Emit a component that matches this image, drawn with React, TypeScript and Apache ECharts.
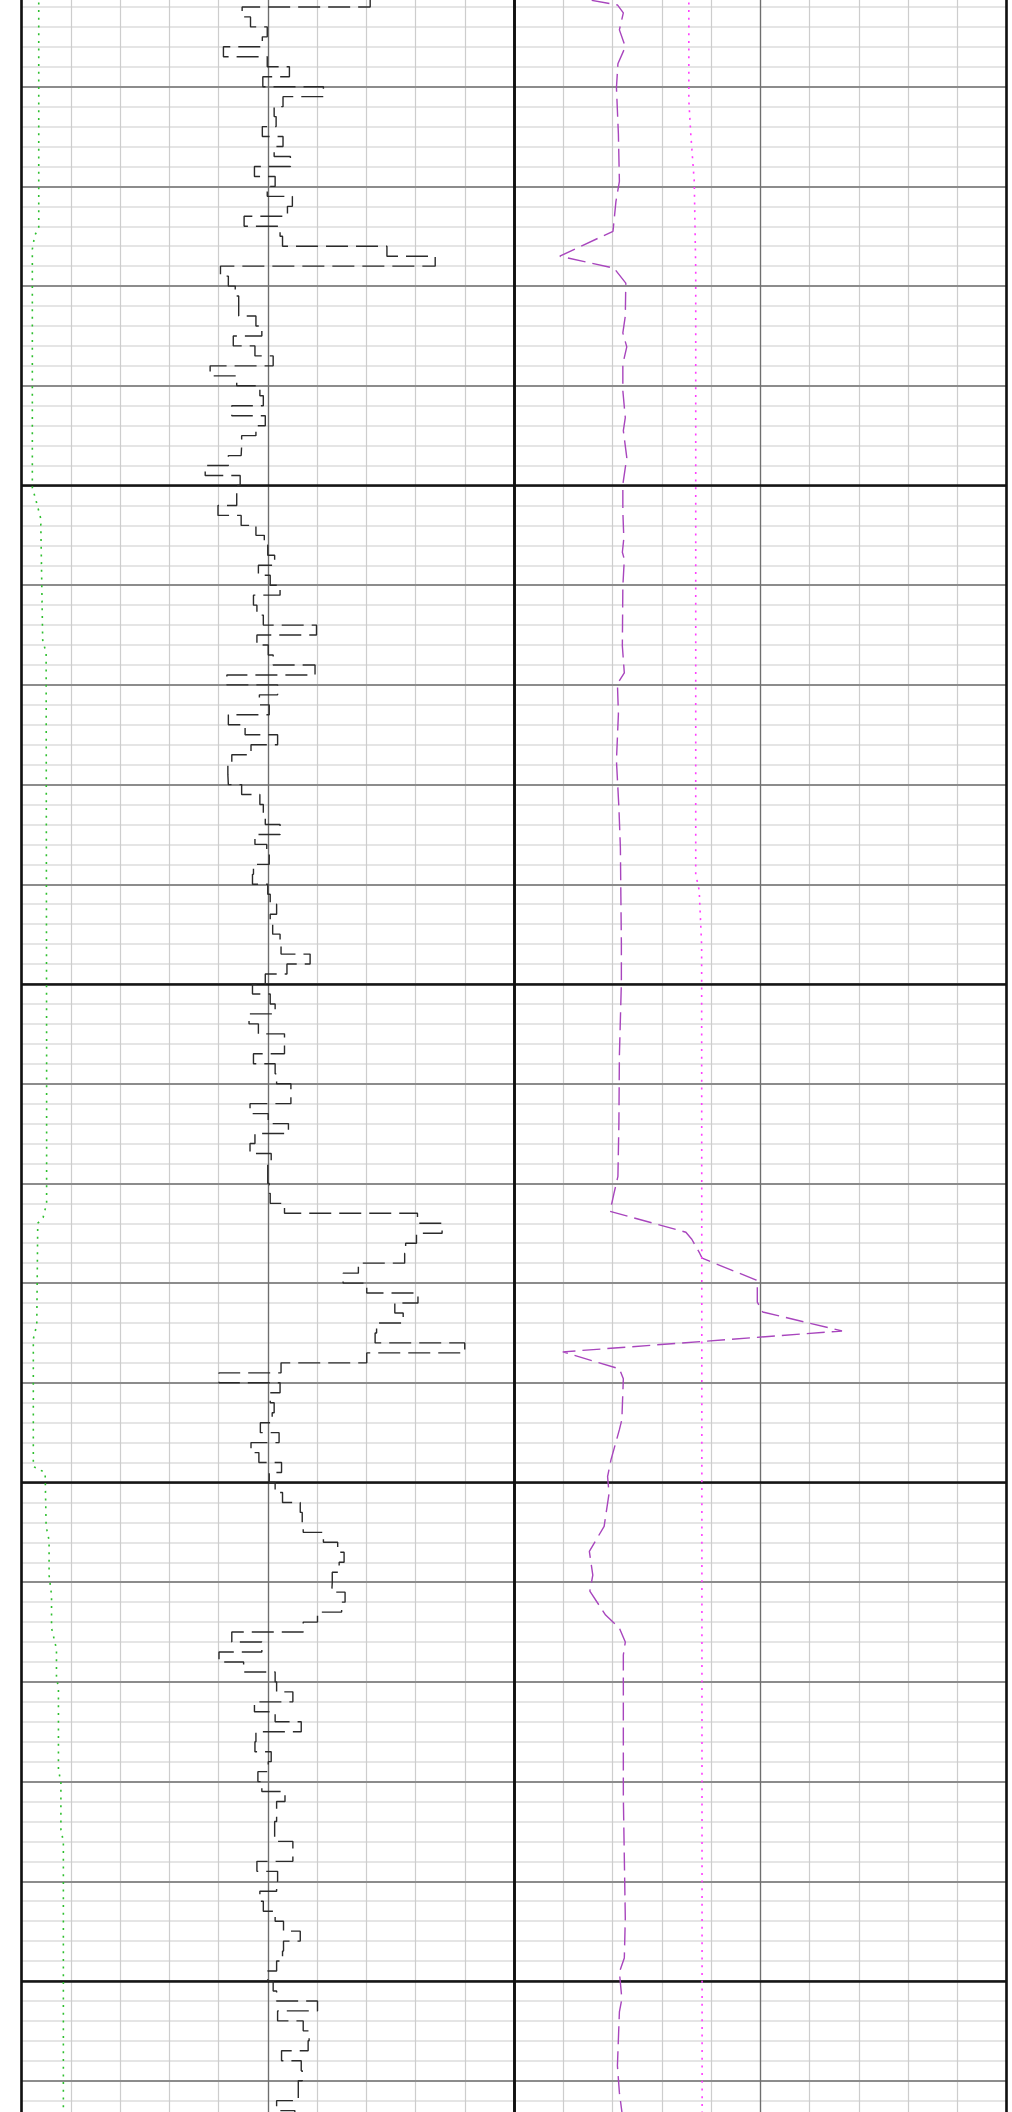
import React, { useEffect, useRef } from "react";
import * as echarts from "echarts";

// Depth axis (ft)
const DEPTH_MIN = 5000;
const DEPTH_MAX = 5214;

// Track 1: black stepped curve, one value per foot starting at 5001 ft
const STEP_TOP_DEPTH = 5001;
const STEP_VALUES = [
  70.8, 44.8, 46.5, 49.9, 48.9, 41.0, 49.9, 54.4, 49.0, 61.3,
  53.1, 51.3, 51.7, 48.9, 53.1, 51.3, 54.6, 47.3, 51.5, 49.9,
  55.0, 54.0, 45.2, 52.5, 53.0, 74.2, 84.0, 40.4, 42.0, 43.4,
  44.1, 44.1, 47.6, 48.8, 43.0, 47.4, 51.1, 38.3, 43.7, 48.4,
  49.1, 42.7, 49.5, 47.6, 44.7, 44.6, 42.0, 37.3, 44.4, 43.7,
  43.7, 39.9, 44.6, 47.6, 49.3, 50.0, 51.4, 48.1, 50.5, 52.5,
  47.1, 47.8, 49.1, 59.9, 47.8, 50.1, 51.1, 59.6, 41.7, 52.0,
  48.3, 50.3, 42.0, 45.4, 52.0, 46.6, 42.7, 41.9, 42.0, 44.7,
  48.4, 49.1, 49.5, 52.5, 47.4, 49.8, 50.3, 47.1, 46.9, 50.0,
  50.5, 51.8, 50.5, 51.0, 52.5, 52.7, 58.6, 53.9, 49.5, 46.9,
  50.5, 51.5, 46.2, 48.1, 53.4, 53.4, 47.1, 51.5, 51.8, 54.7,
  54.7, 46.4, 50.1, 54.2, 47.4, 46.4, 50.7, 50.0, 50.0, 50.3,
  50.5, 53.4, 80.4, 85.4, 80.2, 78.0, 77.8, 68.4, 65.3, 70.1,
  80.5, 75.8, 77.5, 72.1, 71.8, 90.0, 70.1, 52.7, 40.1, 52.5,
  50.5, 51.3, 50.9, 48.5, 52.3, 46.6, 48.2, 52.8, 50.3, 51.5,
  53.0, 56.6, 57.0, 57.2, 61.3, 64.2, 65.5, 64.5, 63.1, 63.0,
  65.7, 65.0, 60.1, 57.2, 42.7, 48.8, 40.1, 45.1, 51.5, 51.8,
  55.1, 47.3, 51.5, 56.8, 47.6, 47.4, 50.7, 50.1, 48.0, 48.8,
  53.5, 51.8, 51.8, 51.4, 51.4, 55.1, 55.1, 47.8, 52.0, 51.8,
  48.4, 49.1, 51.5, 53.2, 56.6, 53.2, 53.0, 51.8, 50.0, 51.1,
  51.8, 60.1, 52.0, 57.2, 58.4, 58.2, 52.8, 56.8, 57.0, 56.2,
  56.2, 51.8, 55.5,
];

// Track 1: green dotted curve
const GREEN_DEPTHS = [
  5000.0, 5024.2, 5024.9, 5026.3, 5050.2, 5051.6, 5053.3, 5065.5, 5066.8, 5107.2,
  5122.0, 5123.4, 5124.0, 5134.2, 5135.6, 5148.4, 5149.0, 5154.4, 5155.8, 5159.3,
  5161.3, 5164.6, 5166.7, 5169.4, 5170.7, 5178.8, 5180.1, 5184.8, 5186.0, 5214.0,
];
const GREEN_VALUES = [
  3.5, 3.5, 2.7, 2.2, 2.2, 3.0, 3.9, 4.3, 5.0, 5.1,
  5.1, 4.4, 3.3, 3.1, 2.4, 2.4, 4.8, 5.0, 5.6, 5.6,
  6.1, 6.1, 7.1, 7.1, 7.5, 7.5, 8.0, 8.0, 8.5, 8.5,
];

// Track 2: purple dashed curve
const PURPLE_DEPTHS = [
  5000.5, 5001.3, 5001.8, 5002.6, 5004.3, 5006.0, 5007.7, 5010.1, 5014.8, 5019.5,
  5021.5, 5024.5, 5027.0, 5028.2, 5029.7, 5033.0, 5034.7, 5036.1, 5037.8, 5040.5,
  5043.2, 5044.5, 5047.2, 5049.9, 5052.6, 5055.3, 5056.7, 5057.4, 5060.1, 5066.1,
  5068.8, 5069.9, 5072.9, 5077.6, 5082.3, 5086.3, 5091.2, 5095.9, 5099.9, 5107.2,
  5113.9, 5119.3, 5121.0, 5122.8, 5124.9, 5125.6, 5127.0, 5127.5, 5129.7, 5130.2,
  5131.9, 5132.9, 5134.8, 5136.9, 5138.6, 5139.6, 5143.7, 5144.7, 5147.7, 5149.4,
  5151.1, 5154.4, 5156.9, 5159.3, 5160.9, 5163.3, 5164.6, 5166.0, 5167.3, 5171.4,
  5181.5, 5193.7, 5197.7, 5199.1, 5201.8, 5203.1, 5205.8, 5208.5, 5211.2, 5213.1,
  5214.0,
];
const PURPLE_VALUES = [
  11.0, 15.3, 21.0, 22.2, 21.4, 22.6, 21.1, 20.8, 21.2, 21.4,
  20.7, 20.1, 9.3, 20.3, 22.7, 22.6, 22.1, 22.9, 22.1, 22.1,
  22.6, 22.2, 22.9, 22.1, 22.1, 22.3, 22.0, 22.4, 22.1, 22.0,
  22.4, 21.0, 21.2, 20.8, 21.3, 21.6, 21.7, 21.8, 21.8, 21.4,
  21.3, 21.1, 20.3, 19.5, 34.9, 36.1, 37.7, 38.2, 49.2, 49.4,
  49.4, 50.5, 66.6, 9.9, 21.4, 22.2, 21.9, 21.4, 19.7, 19.0,
  19.3, 18.3, 15.3, 16.0, 15.4, 18.6, 21.4, 22.6, 22.2, 22.2,
  22.2, 22.6, 22.4, 21.4, 21.9, 21.4, 21.2, 21.0, 21.4, 21.9,
  22.0,
];

// Track 2: pink dotted curve
const PINK_DEPTHS = [5000.0, 5011.4, 5014.8, 5019.5, 5028.4, 5089.0, 5090.6, 5096.1, 5214.0];
const PINK_VALUES = [35.5, 35.5, 35.9, 36.6, 36.9, 36.9, 37.6, 38.1, 38.2];

// Layout
const PX_PER_FT = 9.97;
const CHART_TOP = 7.2 - 2 * PX_PER_FT; // the 5000 ft line sits just above the page
const GRID_HEIGHT = (DEPTH_MAX - DEPTH_MIN) * PX_PER_FT;
const CHART_HEIGHT = Math.ceil(GRID_HEIGHT) + 2;
const TRACK_LEFTS = [21.5, 514];
const TRACK_WIDTH = 492.5;

function stepPoints(values: number[], top: number) {
  const pts: number[][] = [];
  values.forEach((v, i) => {
    pts.push([v, top + i]);
    pts.push([v, top + i + 1]);
  });
  return pts;
}

function zipPoints(depths: number[], values: number[]) {
  return depths.map((d, i) => [values[i], d]);
}

function yAxisFor(gridIndex: number, interval: number, color: string, width: number, z: number) {
  return {
    type: "value",
    gridIndex,
    inverse: true,
    min: DEPTH_MIN,
    max: DEPTH_MAX,
    interval,
    z,
    axisLine: { show: false },
    axisTick: { show: false },
    axisLabel: { show: false },
    splitLine: { show: true, lineStyle: { color, width } },
  };
}

function xAxisFor(gridIndex: number, interval: number, color: string, width: number, z: number) {
  return {
    type: "value",
    gridIndex,
    min: 0,
    max: 100,
    interval,
    z,
    axisLine: { show: false },
    axisTick: { show: false },
    axisLabel: { show: false },
    splitLine: { show: true, lineStyle: { color, width } },
  };
}

export default function App() {
  const ref = useRef<HTMLDivElement>(null);

  useEffect(() => {
    if (!ref.current) return;
    const chart = echarts.init(ref.current, undefined, { renderer: "svg" });

    const grids = TRACK_LEFTS.map((left) => ({
      left,
      top: 0,
      width: TRACK_WIDTH,
      height: GRID_HEIGHT,
      containLabel: false,
    }));

    const xAxes: any[] = [];
    const yAxes: any[] = [];
    [0, 1].forEach((g) => {
      xAxes.push(xAxisFor(g, 10, "#cdcdcd", 1.2, 1));
      xAxes.push(xAxisFor(g, 50, "#6e6e6e", 1.3, 2));
      xAxes.push(xAxisFor(g, 100, "#111111", 2.6, 4));
      yAxes.push(yAxisFor(g, 2, "#dcdcdc", 1.6, 0));
      yAxes.push(yAxisFor(g, 10, "#8c8c8c", 1.8, 2));
      yAxes.push(yAxisFor(g, 50, "#151515", 2.6, 3));
    });

    chart.setOption({
      animation: false,
      backgroundColor: "#ffffff",
      grid: grids,
      xAxis: xAxes,
      yAxis: yAxes,
      series: [
        {
          type: "line",
          xAxisIndex: 0,
          yAxisIndex: 0,
          data: stepPoints(STEP_VALUES, STEP_TOP_DEPTH),
          showSymbol: false,
          symbol: "none",
          z: 10,
          lineStyle: { color: "#2b2b2b", width: 1.4, type: [22, 8] },
        },
        {
          type: "line",
          xAxisIndex: 0,
          yAxisIndex: 0,
          data: zipPoints(GREEN_DEPTHS, GREEN_VALUES),
          showSymbol: false,
          symbol: "none",
          z: 10,
          lineStyle: { color: "#2fbf2f", width: 1.6, type: [2, 5.7] },
        },
        {
          type: "line",
          xAxisIndex: 3,
          yAxisIndex: 3,
          data: zipPoints(PURPLE_DEPTHS, PURPLE_VALUES),
          showSymbol: false,
          symbol: "none",
          z: 10,
          lineStyle: { color: "#a845bd", width: 1.4, type: [18, 7] },
        },
        {
          type: "line",
          xAxisIndex: 3,
          yAxisIndex: 3,
          data: zipPoints(PINK_DEPTHS, PINK_VALUES),
          showSymbol: false,
          symbol: "none",
          z: 10,
          lineStyle: { color: "#ff3dff", width: 1.6, type: [2, 5.7] },
        },
      ],
    });

    return () => {
      chart.dispose();
    };
  }, []);

  return (
    <div style={{ position: "fixed", left: 0, top: 0, width: 1012, height: 2112, overflow: "hidden", background: "#fff" }}>
      <div
        ref={ref}
        style={{ position: "absolute", left: 0, top: CHART_TOP, width: 1012, height: CHART_HEIGHT }}
      />
    </div>
  );
}
